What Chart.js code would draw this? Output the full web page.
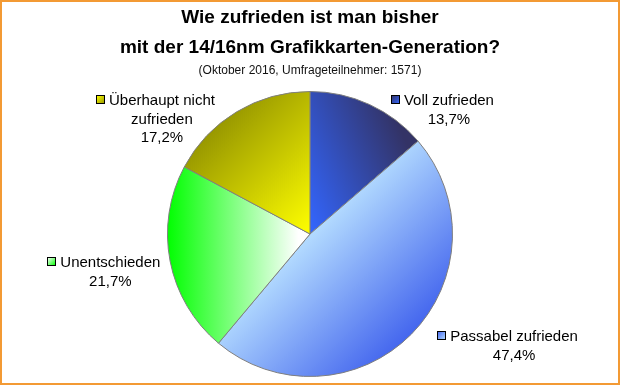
<!DOCTYPE html>
<html>
<head>
<meta charset="utf-8">
<script src="https://cdn.jsdelivr.net/npm/chart.js@4.4.1/dist/chart.umd.min.js"></script>
<style>
html, body { margin: 0; padding: 0; background: #fff; }
</style>
</head>
<body>
<canvas id="mainChart" width="620" height="385"></canvas>
<script>
const categories = ['Voll zufrieden', 'Passabel zufrieden', 'Unentschieden', 'Überhaupt nicht zufrieden'];
const percentValues = [13.7, 47.4, 21.7, 17.2];
const labelLines = [['Voll zufrieden'], ['Passabel zufrieden'], ['Unentschieden'], ['Überhaupt nicht', 'zufrieden']];
const titleLines = ['Wie zufrieden ist man bisher', 'mit der 14/16nm Grafikkarten-Generation?'];
const subtitleText = '(Oktober 2016, Umfrageteilnehmer: 1571)';

// gradient per slice: [from, to] colours and direction (in radius units, relative to centre)
const sliceColors = [['#3366ff', '#333366'], ['#b3dbff', '#4466ee'], ['#00ff00', '#ffffff'], ['#999900', '#ffff00']];
const sliceDirs = [[0, 0, 0.8, -0.35], [0, 0, 0.707, 0.707], [-1, 0, -0.08, 0], [-0.7, -0.7, 0, 0]];
// label anchors (centre of text, first baseline), in radius units
const labelPos = [[0.975, -0.902], [1.432, 0.753], [-1.401, 0.232], [-1.039, -0.902]];

Chart.defaults.font.family = '"Liberation Sans", Arial, sans-serif';
Chart.defaults.color = '#000';

function sliceFill(c) {
    const area = c.chart.chartArea;
    const i = c.dataIndex;
    if (!area) return sliceColors[i][0];
    const cx = (area.left + area.right) / 2;
    const cy = (area.top + area.bottom) / 2;
    const r = Math.min(area.width, area.height) / 2;
    const d = sliceDirs[i];
    const g = c.chart.ctx.createLinearGradient(cx + d[0] * r, cy + d[1] * r, cx + d[2] * r, cy + d[3] * r);
    g.addColorStop(0, sliceColors[i][0]);
    g.addColorStop(1, sliceColors[i][1]);
    return g;
}

const pieLabels = {
    id: 'pieLabels',
    afterDatasetsDraw(chart) {
        const ctx = chart.ctx;
        const meta = chart.getDatasetMeta(0);
        ctx.save();
        ctx.font = '15px "Liberation Sans", Arial, sans-serif';
        ctx.textAlign = 'center';
        ctx.textBaseline = 'alphabetic';
        ctx.fillStyle = '#000';
        meta.data.forEach((arc, i) => {
            const r = arc.outerRadius;
            const x = arc.x + labelPos[i][0] * r;
            const y = arc.y + labelPos[i][1] * r;
            const lines = labelLines[i].concat([percentValues[i].toFixed(1).replace('.', ',') + '%']);
            lines.forEach((t, k) => {
                ctx.fillStyle = '#000';
                ctx.fillText(t, x, y + k * 18.5);
            });
            // small legend key in front of the first line
            const w = ctx.measureText(lines[0]).width;
            const sx = Math.round(x - w / 2 - 13) + 0.5;
            const sy = Math.round(y - 10) + 0.5;
            const g = ctx.createLinearGradient(sx, sy, sx + 8, sy + 8);
            g.addColorStop(0, sliceColors[i][1]);
            g.addColorStop(1, sliceColors[i][0]);
            ctx.fillStyle = g;
            ctx.fillRect(sx, sy, 8, 8);
            ctx.strokeStyle = '#000';
            ctx.lineWidth = 1;
            ctx.strokeRect(sx, sy, 8, 8);
        });
        ctx.restore();
    }
};

const frame = {
    id: 'frame',
    afterDraw(chart) {
        const ctx = chart.ctx;
        ctx.save();
        ctx.strokeStyle = '#f39a34';
        ctx.lineWidth = 2;
        ctx.strokeRect(1, 1, chart.width - 2, chart.height - 2);
        ctx.restore();
    }
};

new Chart(document.getElementById('mainChart'), {
    type: 'pie',
    data: {
        labels: categories,
        datasets: [{
            data: percentValues,
            backgroundColor: sliceFill,
            borderColor: '#7f7f7f',
            borderWidth: 1
        }]
    },
    options: {
        responsive: false,
        animation: false,
        layout: { padding: { bottom: 8 } },
        plugins: {
            legend: { display: false },
            tooltip: { enabled: false },
            title: {
                display: true,
                text: titleLines,
                color: '#000',
                font: { size: 19, weight: 'bold', lineHeight: 30 / 19 },
                padding: { top: 2.5, bottom: 0 }
            },
            subtitle: {
                display: true,
                text: subtitleText,
                color: '#111',
                font: { size: 12, lineHeight: 1.2 },
                padding: { top: 1.3, bottom: 12.8 }
            }
        }
    },
    plugins: [pieLabels, frame]
});
</script>
</body>
</html>
